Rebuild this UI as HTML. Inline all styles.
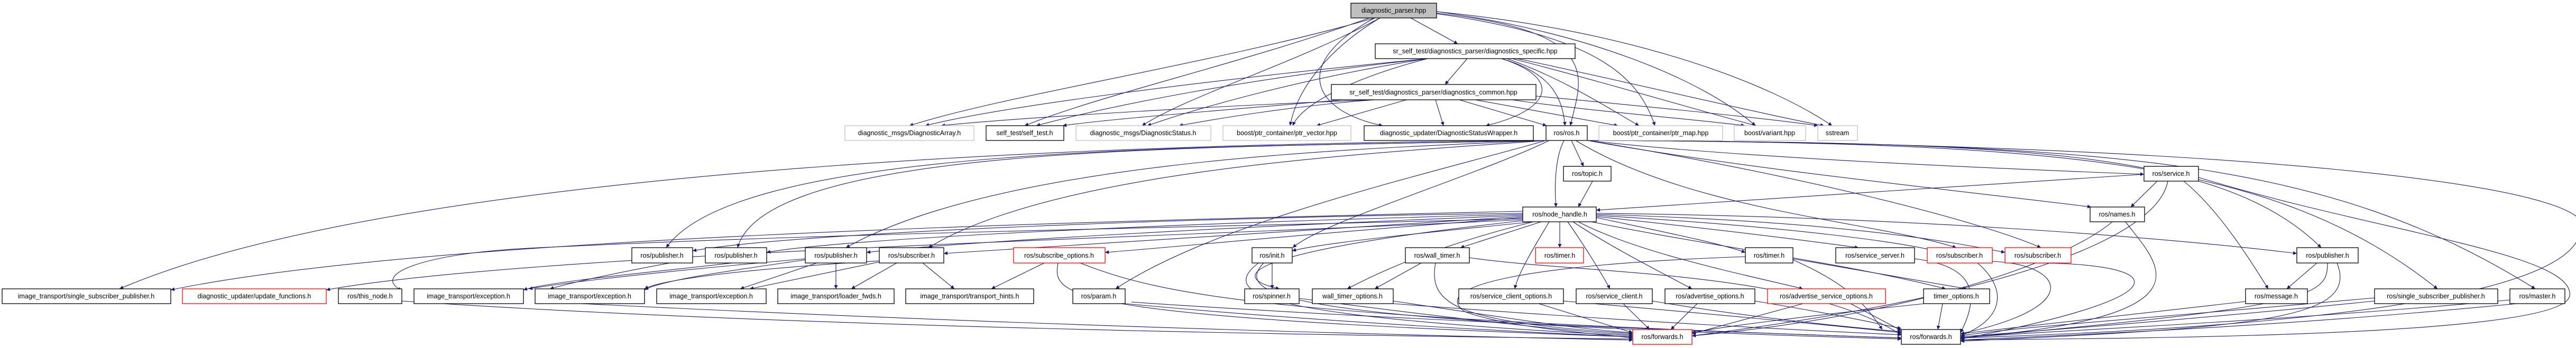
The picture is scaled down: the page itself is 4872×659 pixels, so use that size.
<!DOCTYPE html>
<html><head><meta charset="utf-8"><style>
html,body{margin:0;padding:0;background:#fff;}
svg{display:block}
text{font-family:"Liberation Sans",sans-serif;font-size:12.5px;text-anchor:middle;fill:#000}
.e{fill:none;stroke:#191970;stroke-width:1.1;marker-end:url(#a)}
.k{fill:#fff;stroke:#000;stroke-width:1.3}
.g{fill:#fff;stroke:#bfbfbf;stroke-width:1.3}
.r{fill:#fff;stroke:#ff0000;stroke-width:1.3}
</style></head><body>
<svg width="4872" height="659" viewBox="0 0 4872 659" xmlns="http://www.w3.org/2000/svg">
<defs><marker id="a" viewBox="0 0 10 10" refX="10" refY="5" markerWidth="9" markerHeight="7" orient="auto" markerUnits="userSpaceOnUse"><path d="M0,0L10,5L0,10z" fill="#191970"/></marker></defs>
<g>
<path class="e" d="M2668,34 L2757,83"/>
<path class="e" d="M2600,34 C2300,120 1900,180 1720,238"/>
<path class="e" d="M2590,34 C2350,120 2080,180 1938,238"/>
<path class="e" d="M2610,34 C2450,120 2250,180 2160,238"/>
<path class="e" d="M2610,34 C2500,100 2450,180 2440,238"/>
<path class="e" d="M2600,34 C2440,120 2480,210 2615,238"/>
<path class="e" d="M2717,25 C3040,60 2990,150 2970,238"/>
<path class="e" d="M2717,26 C3030,70 3100,150 3130,238"/>
<path class="e" d="M2717,22 C3000,60 3220,150 3320,238"/>
<path class="e" d="M2717,22 C3100,60 3350,160 3465,238"/>
<path class="e" d="M2775,111 L2733,160"/>
<path class="e" d="M2700,111 C2300,150 1900,200 1750,238"/>
<path class="e" d="M2700,111 C2350,150 2100,200 1960,238"/>
<path class="e" d="M2700,111 C2450,150 2250,210 2170,238"/>
<path class="e" d="M2700,111 C2550,150 2460,200 2445,238"/>
<path class="e" d="M2840,111 C2960,150 2930,210 2810,238"/>
<path class="e" d="M2840,111 C2940,140 2955,190 2960,238"/>
<path class="e" d="M2850,111 C2960,150 3050,210 3100,238"/>
<path class="e" d="M2860,111 C3050,160 3250,220 3322,238"/>
<path class="e" d="M2870,111 C3100,160 3350,220 3450,238"/>
<path class="e" d="M2600,189 C2300,200 1900,225 1780,238"/>
<path class="e" d="M2540,189 C2300,210 2100,225 2010,238"/>
<path class="e" d="M2600,189 C2450,200 2300,225 2230,238"/>
<path class="e" d="M2660,189 L2490,238"/>
<path class="e" d="M2715,189 L2730,238"/>
<path class="e" d="M2760,189 L2925,238"/>
<path class="e" d="M2790,189 L3060,238"/>
<path class="e" d="M2860,189 C3000,210 3200,225 3300,238"/>
<path class="e" d="M2905,182 C3100,200 3350,225 3438,238"/>
<path class="e" d="M2972,266 L2995,315"/>
<path class="e" d="M2958,266 C2940,300 2940,360 2943,392"/>
<path class="e" d="M3002,266 C3300,300 3800,320 4055,330"/>
<path class="e" d="M3002,266 C3300,320 3700,360 3955,392"/>
<path class="e" d="M2924,266 C2300,280 1400,270 1260,469"/>
<path class="e" d="M2924,266 C2300,280 1450,270 1395,469"/>
<path class="e" d="M2924,266 C2600,280 1900,300 1600,469"/>
<path class="e" d="M2924,266 C2600,290 2000,320 1756,469"/>
<path class="e" d="M2930,266 C2800,330 2500,420 2445,469"/>
<path class="e" d="M2924,266 C2700,330 2300,420 2110,547"/>
<path class="e" d="M2924,266 C2300,270 800,300 226,547"/>
<path class="e" d="M2980,266 C3200,400 3550,420 3700,469"/>
<path class="e" d="M3002,266 C3400,330 3750,420 3860,469"/>
<path class="e" d="M3002,266 C3800,270 4200,280 4390,469"/>
<path class="e" d="M3002,266 C3900,270 4300,300 4610,547"/>
<path class="e" d="M3002,266 C4000,270 4400,300 4795,547"/>
<path class="e" d="M3002,266 C4200,270 4950,350 4880,440 C4850,600 4000,630 3708,640"/>
<path class="e" d="M3012,343 L2985,392"/>
<path class="e" d="M4055,330 L3019,398"/>
<path class="e" d="M4080,343 L4030,392"/>
<path class="e" d="M4130,343 C4200,400 4260,500 4290,547"/>
<path class="e" d="M4100,343 C4080,450 3800,560 3200,636"/>
<path class="e" d="M4158,336 C4500,440 4870,480 4860,560 C4850,640 4000,640 3708,644"/>
<path class="e" d="M3995,420 C3900,500 3600,600 3200,636"/>
<path class="e" d="M4020,420 C4080,500 4200,600 3708,640"/>
<path class="e" d="M2880,404 C2300,410 1500,440 1310,475"/>
<path class="e" d="M2880,406 C2300,420 1600,450 1450,478"/>
<path class="e" d="M2880,408 C2300,430 1800,460 1639,478"/>
<path class="e" d="M2880,410 C2400,440 1900,470 1785,480"/>
<path class="e" d="M2880,412 C2500,440 2200,470 2090,478"/>
<path class="e" d="M2900,420 C2700,440 2500,460 2444,475"/>
<path class="e" d="M2915,420 L2762,469"/>
<path class="e" d="M2950,420 L2950,469"/>
<path class="e" d="M3019,412 C3150,440 3250,460 3301,478"/>
<path class="e" d="M3019,410 C3300,440 3450,460 3515,469"/>
<path class="e" d="M3019,408 C3400,430 3600,460 3660,475"/>
<path class="e" d="M3019,406 C3500,420 3700,460 3792,478"/>
<path class="e" d="M3019,404 C3600,410 4100,450 4344,480"/>
<path class="e" d="M2900,420 C2700,470 2600,520 2548,547"/>
<path class="e" d="M2930,420 C2900,470 2870,520 2865,547"/>
<path class="e" d="M2965,420 C3000,470 3030,520 3045,547"/>
<path class="e" d="M2975,420 C3050,470 3150,520 3200,547"/>
<path class="e" d="M2985,420 C3100,480 3300,520 3410,547"/>
<path class="e" d="M3010,420 C3200,460 3500,500 3680,547"/>
<path class="e" d="M2880,414 C2300,430 1600,440 1000,470 C800,480 700,520 760,550"/>
<path class="e" d="M2880,416 C2200,450 1000,480 617,549"/>
<path class="e" d="M2880,418 C2400,470 2300,520 2420,547"/>
<path class="e" d="M2880,400 C2000,420 800,450 323,549"/>
<path class="e" d="M1310,490 C1200,510 1100,530 1040,547"/>
<path class="e" d="M1450,490 C1300,510 1050,530 990,549"/>
<path class="e" d="M1523,490 C1300,510 1100,530 1000,547"/>
<path class="e" d="M1523,492 C1400,510 1250,530 1219,549"/>
<path class="e" d="M1545,498 L1400,547"/>
<path class="e" d="M1581,498 L1581,547"/>
<path class="e" d="M1663,494 C1400,510 1250,530 1219,547"/>
<path class="e" d="M1663,496 L1418,547"/>
<path class="e" d="M1696,498 L1610,547"/>
<path class="e" d="M1745,498 L1805,547"/>
<path class="e" d="M1975,498 L1875,547"/>
<path class="e" d="M2001,498 C1990,560 2000,600 3088,638"/>
<path class="e" d="M2043,498 C2200,560 2400,600 3596,640"/>
<path class="e" d="M2406,498 L2406,547"/>
<path class="e" d="M2380,498 C2300,560 2400,600 3088,636"/>
<path class="e" d="M2390,498 C2320,570 2500,610 3596,642"/>
<path class="e" d="M2688,498 L2600,547"/>
<path class="e" d="M2715,498 C2700,580 2760,610 3088,632"/>
<path class="e" d="M2779,488 C3000,520 3400,510 3596,634"/>
<path class="e" d="M3301,486 C2900,500 2700,540 2770,590 C2850,620 3000,630 3088,640"/>
<path class="e" d="M3391,490 L3720,547"/>
<path class="e" d="M3391,492 C3500,540 3530,580 3560,624"/>
<path class="e" d="M3621,490 C3700,500 3760,530 3708,630"/>
<path class="e" d="M3740,498 C3790,540 3800,600 3708,636"/>
<path class="e" d="M3768,495 C3900,500 3950,580 3708,632"/>
<path class="e" d="M3854,498 C4100,500 4140,560 3708,642"/>
<path class="e" d="M4382,498 L4325,547"/>
<path class="e" d="M4402,498 C4402,560 4380,580 3708,640"/>
<path class="e" d="M4420,498 C4460,600 4300,620 3708,646"/>
<path class="e" d="M760,570 C1500,620 2500,635 3088,642"/>
<path class="e" d="M1100,575 C2000,620 2800,638 3088,644"/>
<path class="e" d="M2128,575 C2500,610 2900,630 3088,638"/>
<path class="e" d="M2140,572 C2700,610 3300,630 3596,640"/>
<path class="e" d="M2457,565 C2800,610 3000,630 3088,634"/>
<path class="e" d="M2635,570 C2900,610 3000,625 3088,630"/>
<path class="e" d="M2635,575 C3100,610 3400,625 3596,634"/>
<path class="e" d="M2910,575 L3088,630"/>
<path class="e" d="M2957,570 C3300,600 3500,620 3596,630"/>
<path class="e" d="M3070,575 L3120,624"/>
<path class="e" d="M3125,570 C3300,600 3500,620 3596,628"/>
<path class="e" d="M3210,575 L3160,624"/>
<path class="e" d="M3319,570 C3500,600 3560,615 3596,622"/>
<path class="e" d="M3410,575 L3200,632"/>
<path class="e" d="M3500,575 L3596,626"/>
<path class="e" d="M3640,575 C3400,600 3250,620 3200,630"/>
<path class="e" d="M3674,575 L3665,624"/>
<path class="e" d="M4255,570 C4000,600 3800,620 3708,632"/>
<path class="e" d="M4491,564 C4100,600 3800,620 3708,636"/>
<path class="e" d="M4491,570 C4100,610 3800,630 3708,638"/>
<path class="e" d="M4747,568 C4300,610 3800,630 3708,640"/>
<path class="e" d="M4760,575 C4300,620 3900,635 3708,644"/>
</g>
<g>
<rect x="2555" y="6" width="162" height="28" fill="#bfbfbf" stroke="#000" stroke-width="1.3"/><text x="2636" y="24">diagnostic_parser.hpp</text>
<rect class="k" x="2601" y="83" width="378" height="28"/><text x="2790" y="101">sr_self_test/diagnostics_parser/diagnostics_specific.hpp</text>
<rect class="k" x="2518" y="160" width="387" height="29"/><text x="2711" y="179">sr_self_test/diagnostics_parser/diagnostics_common.hpp</text>
<rect class="g" x="1598" y="238" width="244" height="28"/><text x="1720" y="256">diagnostic_msgs/DiagnosticArray.h</text>
<rect class="k" x="1865" y="238" width="147" height="28"/><text x="1938" y="256">self_test/self_test.h</text>
<rect class="g" x="2035" y="238" width="255" height="28"/><text x="2162" y="256">diagnostic_msgs/DiagnosticStatus.h</text>
<rect class="g" x="2313" y="238" width="242" height="28"/><text x="2434" y="256">boost/ptr_container/ptr_vector.hpp</text>
<rect class="k" x="2580" y="238" width="320" height="28"/><text x="2740" y="256">diagnostic_updater/DiagnosticStatusWrapper.h</text>
<rect class="k" x="2924" y="238" width="78" height="28"/><text x="2963" y="256">ros/ros.h</text>
<rect class="g" x="3024" y="238" width="234" height="28"/><text x="3141" y="256">boost/ptr_container/ptr_map.hpp</text>
<rect class="g" x="3280" y="238" width="135" height="28"/><text x="3347" y="256">boost/variant.hpp</text>
<rect class="g" x="3438" y="238" width="75" height="28"/><text x="3475" y="256">sstream</text>
<rect class="k" x="2957" y="315" width="90" height="28"/><text x="3002" y="333">ros/topic.h</text>
<rect class="k" x="4055" y="315" width="103" height="28"/><text x="4106" y="333">ros/service.h</text>
<rect class="k" x="2880" y="392" width="139" height="28"/><text x="2950" y="410">ros/node_handle.h</text>
<rect class="k" x="3953" y="392" width="103" height="28"/><text x="4004" y="410">ros/names.h</text>
<rect class="k" x="1195" y="469" width="115" height="29"/><text x="1252" y="488">ros/publisher.h</text>
<rect class="k" x="1334" y="469" width="116" height="29"/><text x="1392" y="488">ros/publisher.h</text>
<rect class="k" x="1523" y="469" width="116" height="29"/><text x="1581" y="488">ros/publisher.h</text>
<rect class="k" x="1663" y="469" width="122" height="29"/><text x="1724" y="488">ros/subscriber.h</text>
<rect class="r" x="1917" y="469" width="173" height="29"/><text x="2003" y="488">ros/subscribe_options.h</text>
<rect class="k" x="2368" y="469" width="76" height="29"/><text x="2406" y="488">ros/init.h</text>
<rect class="k" x="2658" y="469" width="121" height="29"/><text x="2718" y="488">ros/wall_timer.h</text>
<rect class="r" x="2904" y="469" width="91" height="29"/><text x="2950" y="488">ros/timer.h</text>
<rect class="k" x="3301" y="469" width="90" height="29"/><text x="3346" y="488">ros/timer.h</text>
<rect class="k" x="3472" y="469" width="149" height="29"/><text x="3546" y="488">ros/service_server.h</text>
<rect class="r" x="3645" y="469" width="123" height="29"/><text x="3706" y="488">ros/subscriber.h</text>
<rect class="r" x="3792" y="469" width="125" height="29"/><text x="3854" y="488">ros/subscriber.h</text>
<rect class="k" x="4344" y="469" width="116" height="29"/><text x="4402" y="488">ros/publisher.h</text>
<rect class="k" x="4" y="547" width="319" height="28"/><text x="163" y="565">image_transport/single_subscriber_publisher.h</text>
<rect class="r" x="345" y="547" width="272" height="28"/><text x="481" y="565">diagnostic_updater/update_functions.h</text>
<rect class="k" x="640" y="547" width="120" height="28"/><text x="700" y="565">ros/this_node.h</text>
<rect class="k" x="783" y="547" width="207" height="28"/><text x="886" y="565">image_transport/exception.h</text>
<rect class="k" x="1012" y="547" width="207" height="28"/><text x="1115" y="565">image_transport/exception.h</text>
<rect class="k" x="1242" y="547" width="207" height="28"/><text x="1345" y="565">image_transport/exception.h</text>
<rect class="k" x="1471" y="547" width="220" height="28"/><text x="1581" y="565">image_transport/loader_fwds.h</text>
<rect class="k" x="1713" y="547" width="242" height="28"/><text x="1834" y="565">image_transport/transport_hints.h</text>
<rect class="k" x="2029" y="547" width="99" height="28"/><text x="2078" y="565">ros/param.h</text>
<rect class="k" x="2354" y="547" width="103" height="28"/><text x="2405" y="565">ros/spinner.h</text>
<rect class="k" x="2482" y="547" width="153" height="28"/><text x="2558" y="565">wall_timer_options.h</text>
<rect class="k" x="2759" y="547" width="198" height="28"/><text x="2858" y="565">ros/service_client_options.h</text>
<rect class="k" x="2981" y="547" width="144" height="28"/><text x="3053" y="565">ros/service_client.h</text>
<rect class="k" x="3149" y="547" width="170" height="28"/><text x="3234" y="565">ros/advertise_options.h</text>
<rect class="r" x="3343" y="547" width="223" height="28"/><text x="3454" y="565">ros/advertise_service_options.h</text>
<rect class="k" x="3638" y="547" width="125" height="28"/><text x="3700" y="565">timer_options.h</text>
<rect class="k" x="4247" y="547" width="117" height="28"/><text x="4305" y="565">ros/message.h</text>
<rect class="k" x="4491" y="547" width="233" height="28"/><text x="4607" y="565">ros/single_subscriber_publisher.h</text>
<rect class="k" x="4747" y="547" width="104" height="28"/><text x="4799" y="565">ros/master.h</text>
<rect class="r" x="3088" y="624" width="112" height="28"/><text x="3144" y="642">ros/forwards.h</text>
<rect class="k" x="3596" y="624" width="112" height="28"/><text x="3652" y="642">ros/forwards.h</text>
</g>
</svg>
</body></html>
